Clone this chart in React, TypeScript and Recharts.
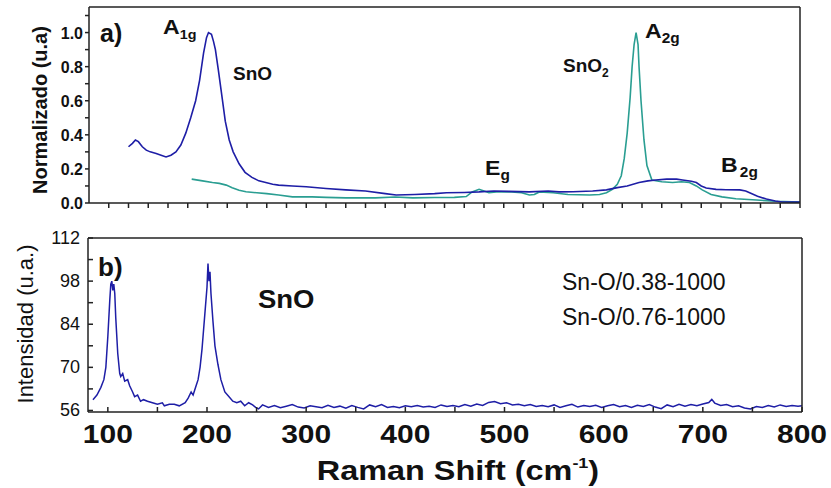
import React from 'react';
import { LineChart, Line, XAxis, YAxis, Customized } from 'recharts';

// panel a) normalised spectra, [shift, value]
const snoNorm: [number, number][] = [
  [120, 0.33], [124, 0.35], [127, 0.37], [130, 0.36], [134, 0.33], [138, 0.31], [142, 0.3], [148, 0.29],
  [153, 0.28], [158, 0.27], [163, 0.28], [168, 0.3], [173, 0.34], [178, 0.41], [183, 0.5], [188, 0.6],
  [192, 0.72], [196, 0.88], [199, 0.97], [201, 1.0], [204, 0.99], [206, 0.95], [208, 0.9], [211, 0.78],
  [215, 0.61], [218, 0.48], [222, 0.37], [226, 0.3], [232, 0.23], [238, 0.18], [245, 0.15], [252, 0.13],
  [259, 0.12], [266, 0.11], [272, 0.105], [286, 0.1], [300, 0.095], [320, 0.085], [340, 0.077], [360, 0.07],
  [380, 0.055], [391, 0.047], [410, 0.05], [430, 0.055], [442, 0.06], [460, 0.062], [475, 0.065], [490, 0.07],
  [505, 0.068], [526, 0.065], [545, 0.07], [556, 0.065], [570, 0.066], [590, 0.07], [604, 0.077], [615, 0.09],
  [625, 0.1], [637, 0.12], [646, 0.13], [654, 0.135], [665, 0.14], [675, 0.14], [681, 0.135], [690, 0.128],
  [695, 0.12], [700, 0.1], [705, 0.088], [715, 0.08], [725, 0.078], [739, 0.077], [745, 0.07], [749, 0.06],
  [757, 0.04], [766, 0.023], [775, 0.012], [782, 0.006], [800, 0.005],
];

const sno2Norm: [number, number][] = [
  [184, 0.14], [195, 0.13], [205, 0.12], [212, 0.115], [219, 0.105], [225, 0.09], [232, 0.075], [239, 0.066],
  [250, 0.06], [260, 0.055], [272, 0.047], [286, 0.036], [306, 0.036], [320, 0.033], [340, 0.03], [370, 0.03],
  [390, 0.035], [408, 0.03], [430, 0.032], [450, 0.033], [462, 0.038], [468, 0.065], [475, 0.08], [480, 0.07],
  [485, 0.06], [495, 0.066], [508, 0.065], [518, 0.06], [526, 0.047], [531, 0.05], [536, 0.065], [550, 0.06],
  [565, 0.05], [587, 0.047], [597, 0.05], [604, 0.06], [610, 0.08], [615, 0.11], [619, 0.16], [622, 0.26],
  [625, 0.41], [628, 0.62], [630, 0.8], [632, 0.93], [634, 1.0], [636, 0.93], [637, 0.8], [639, 0.6],
  [642, 0.37], [645, 0.22], [650, 0.135], [660, 0.125], [671, 0.12], [680, 0.125], [688, 0.12], [695, 0.1],
  [701, 0.077], [710, 0.05], [721, 0.036], [735, 0.025], [756, 0.018], [775, 0.01], [800, 0.005],
];

// panel b) raw intensity
const snoRaw: [number, number][] = [
  [85, 59.5], [89, 61], [93, 63.5], [96, 66], [98, 70], [100, 80], [102, 92], [103, 97], [104, 98],
  [105, 95], [106, 97], [107, 94], [108, 86], [110, 74.5], [112, 68], [113, 67], [115, 68], [117, 65.5],
  [120, 66], [122, 64], [125, 62], [127, 60.5], [130, 61], [133, 59], [136, 59.5], [140, 59], [145, 58.5],
  [150, 58], [155, 58.5], [157, 57.5], [162, 58], [167, 58], [172, 57.5], [178, 58.5], [181, 60], [184, 62],
  [186, 61], [189, 64], [191, 66], [193, 70], [195, 76], [196, 80], [198, 88], [200, 96], [201, 103.7],
  [202, 98], [203, 101], [204, 94], [206, 85], [208, 77], [211, 71], [214, 66], [218, 62], [222, 60.5],
  [226, 59], [230, 58.5], [234, 59], [238, 57.5], [242, 58.5], [246, 57.8], [249, 57], [252, 56.5],
  [256, 57.8], [262, 57.0], [268, 57.6], [274, 56.9], [280, 57.4], [286, 57.9], [292, 57.1], [298, 56.8],
  [304, 57.5], [310, 57.2], [316, 56.9], [322, 57.7], [328, 57.0], [334, 57.4], [340, 56.7], [346, 57.6],
  [352, 57.0], [358, 56.5], [364, 57.8], [370, 57.2], [376, 57.9], [382, 57.0], [388, 57.3], [394, 56.9],
  [400, 57.5], [406, 57.2], [412, 57.6], [418, 57.1], [424, 57.4], [430, 57.0], [436, 57.8], [442, 57.3],
  [448, 57.6], [454, 57.2], [460, 57.9], [466, 57.4], [472, 58.1], [478, 57.6], [484, 58.6], [490, 58.9],
  [496, 58.2], [502, 58.5], [508, 57.8], [514, 58.0], [520, 57.5], [526, 57.9], [532, 57.3], [538, 57.6],
  [544, 57.2], [550, 57.8], [556, 57.0], [562, 57.5], [568, 58.0], [574, 57.1], [580, 57.6], [586, 57.3],
  [592, 57.7], [598, 57.0], [604, 57.5], [610, 57.9], [616, 57.2], [622, 57.6], [628, 57.0], [634, 57.7],
  [640, 57.3], [646, 57.9], [652, 57.1], [658, 56.6], [664, 57.8], [670, 57.2], [676, 58.0], [682, 57.4],
  [688, 57.9], [694, 57.5], [700, 58.1], [706, 58.6], [709, 59.6], [712, 58.4], [718, 57.6], [724, 57.9],
  [730, 57.2], [736, 57.5], [742, 56.8], [748, 56.5], [754, 57.3], [760, 57.0], [766, 57.6], [772, 57.1],
  [778, 57.8], [784, 57.3], [790, 57.6], [796, 57.4], [800, 57.5],
];

const topXTicks = [100, 120, 140, 160, 180, 200, 220, 240, 260, 280, 300, 320, 340, 360, 380, 400, 420, 440,
  460, 480, 500, 520, 540, 560, 580, 600, 620, 640, 660, 680, 700, 720, 740, 760, 780, 800];
const bottomXTicks = [100, 150, 200, 250, 300, 350, 400, 450, 500, 550, 600, 650, 700, 750, 800];
const normTicks = [0, 0.1, 0.2, 0.3, 0.4, 0.5, 0.6, 0.7, 0.8, 0.9, 1.0, 1.1];
const intTicks = [56, 63, 70, 77, 84, 91, 98, 105, 112];

const BLUE = '#1e1ea6';
const TEAL = '#2a9e92';
const INK = '#111';
const FONT = '"Liberation Sans", Arial, sans-serif';
const AXIS = { stroke: '#222', strokeWidth: 1.5 };
const TICK = { stroke: '#222', strokeWidth: 1.5 };

const toXY = (pts: [number, number][]) => pts.map(([x, y]) => ({ x, y }));

// tick={false} drops the tick lines too, so label-less axes get an empty tick
const NoLabel = () => <g />;

const SText = ({ x, y, sx = 1, children, ...rest }: any) => (
  <text transform={`translate(${x},${y}) scale(${sx},1)`} x={0} y={0} fill={INK} fontFamily={FONT} {...rest}>
    {children}
  </text>
);

// tick labels: x, y arrive at the axis line because tickSize + tickMargin = 0
const NormYTick = ({ x, y, payload }: any) => {
  const v = payload.value;
  if (Math.round(v * 10) % 2 !== 0 || v > 1.0) return <g />;
  return (
    <text x={x - 6} y={y + 6} textAnchor="end" fontSize={16} fontWeight="bold" fontFamily={FONT} fill={INK}>
      {v.toFixed(1)}
    </text>
  );
};

const BottomXTick = ({ x, y, payload }: any) => {
  if (payload.value % 100 !== 0) return <g />;
  return (
    <SText x={x} y={y + 31} sx={1.2} textAnchor="middle" fontSize={25} fontWeight="bold">
      {payload.value}
    </SText>
  );
};

const IntYTick = ({ x, y, payload }: any) => {
  if ((payload.value - 56) % 14 !== 0) return <g />;
  return (
    <text x={x - 8} y={y + 6} textAnchor="end" fontSize={18} fontFamily={FONT} fill={INK}>
      {payload.value}
    </text>
  );
};

const TopNotes = () => (
  <g>
    <text x={47} y={110} transform="rotate(-90 47 110)" textAnchor="middle" fontSize={20} fontWeight="bold" fontFamily={FONT} fill={INK}>
      Normalizado (u.a)
    </text>
    <SText x={100} y={42} fontSize={25} fontWeight="bold">a)</SText>
    <SText x={163} y={34} sx={1.1} fontSize={21} fontWeight="bold">
      A<tspan fontSize={13} dy={5}>1g</tspan>
    </SText>
    <SText x={233} y={80} fontSize={19} fontWeight="bold">SnO</SText>
    <SText x={563} y={72} fontSize={19} fontWeight="bold">
      SnO<tspan fontSize={12} dy={5}>2</tspan>
    </SText>
    <SText x={645} y={38} sx={1.1} fontSize={21} fontWeight="bold">
      A<tspan fontSize={14} dy={5}>2g</tspan>
    </SText>
    <SText x={485} y={175} sx={1.1} fontSize={21} fontWeight="bold">
      E<tspan fontSize={14} dy={5}>g</tspan>
    </SText>
    <SText x={721} y={172} sx={1.1} fontSize={21} fontWeight="bold">
      B<tspan fontSize={14} dy={5} dx={2}>2g</tspan>
    </SText>
  </g>
);

const BottomNotes = () => (
  <g>
    <text x={33} y={104} transform="rotate(-90 33 104)" textAnchor="middle" fontSize={22} fontFamily={FONT} fill={INK}>
      Intensidad (u.a.)
    </text>
    <SText x={98} y={56} fontSize={26} fontWeight="bold">b)</SText>
    <SText x={258} y={88} sx={1.1} fontSize={25} fontWeight="bold">SnO</SText>
    <SText x={562} y={70} fontSize={23}>Sn-O/0.38-1000</SText>
    <SText x={562} y={105} fontSize={23}>Sn-O/0.76-1000</SText>
    <SText x={458} y={260} sx={1.2} textAnchor="middle" fontSize={27} fontWeight="bold">
      Raman Shift (cm<tspan fontSize={15} dy={-12}>-1</tspan><tspan dy={12}>)</tspan>
    </SText>
  </g>
);

export default function App() {
  return (
    <div style={{ position: 'absolute', left: 0, top: 0, width: 831, height: 488, background: '#fff' }}>
      <div style={{ position: 'absolute', left: 0, top: 0 }}>
        <LineChart width={831} height={220} margin={{ top: 6, right: 30, bottom: 0, left: 0 }}>
          <XAxis
            type="number" dataKey="x" domain={[80, 800]} ticks={topXTicks} interval={0}
            tickSize={5} tickMargin={-5} tickLine={TICK} tick={NoLabel}
            height={17} axisLine={AXIS} allowDataOverflow
          />
          <XAxis xAxisId="top" orientation="top" type="number" domain={[80, 800]} height={1} tick={false} tickLine={false} axisLine={AXIS} />
          <YAxis
            type="number" domain={[0, 1.15]} ticks={normTicks} interval={0} width={89}
            tickSize={4} tickMargin={-4} tickLine={TICK} tick={(p: any) => <NormYTick {...p} />}
            axisLine={AXIS} allowDataOverflow
          />
          <YAxis yAxisId="right" orientation="right" type="number" domain={[0, 1.15]} width={1} tick={false} tickLine={false} axisLine={AXIS} />
          <Line data={toXY(sno2Norm)} dataKey="y" type="linear" stroke={TEAL} strokeWidth={1.6} dot={false} isAnimationActive={false} />
          <Line data={toXY(snoNorm)} dataKey="y" type="linear" stroke={BLUE} strokeWidth={1.6} dot={false} isAnimationActive={false} />
          <Customized component={TopNotes} />
        </LineChart>
      </div>
      <div style={{ position: 'absolute', left: 0, top: 220 }}>
        <LineChart width={831} height={268} margin={{ top: 17, right: 28, bottom: 0, left: 0 }}>
          <XAxis
            type="number" dataKey="x" domain={[80, 800]} ticks={bottomXTicks} interval={0}
            tickSize={-5} tickMargin={5} tickLine={TICK} tick={(p: any) => <BottomXTick {...p} />}
            height={76} axisLine={AXIS} allowDataOverflow
          />
          <XAxis
            xAxisId="top" orientation="top" type="number" domain={[80, 800]} ticks={bottomXTicks} interval={0}
            height={1} tickSize={-5} tickMargin={5} tickLine={TICK} tick={NoLabel} axisLine={AXIS}
          />
          <YAxis
            type="number" domain={[55.5, 112]} ticks={intTicks} interval={0} width={88}
            tickSize={-5} tickMargin={5} tickLine={TICK} tick={(p: any) => <IntYTick {...p} />}
            axisLine={AXIS} allowDataOverflow
          />
          <YAxis yAxisId="right" orientation="right" type="number" domain={[55.5, 112]} width={1} tick={false} tickLine={false} axisLine={AXIS} />
          <Line data={toXY(snoRaw)} dataKey="y" type="linear" stroke={BLUE} strokeWidth={1.5} dot={false} isAnimationActive={false} />
          <Customized component={BottomNotes} />
        </LineChart>
      </div>
    </div>
  );
}
